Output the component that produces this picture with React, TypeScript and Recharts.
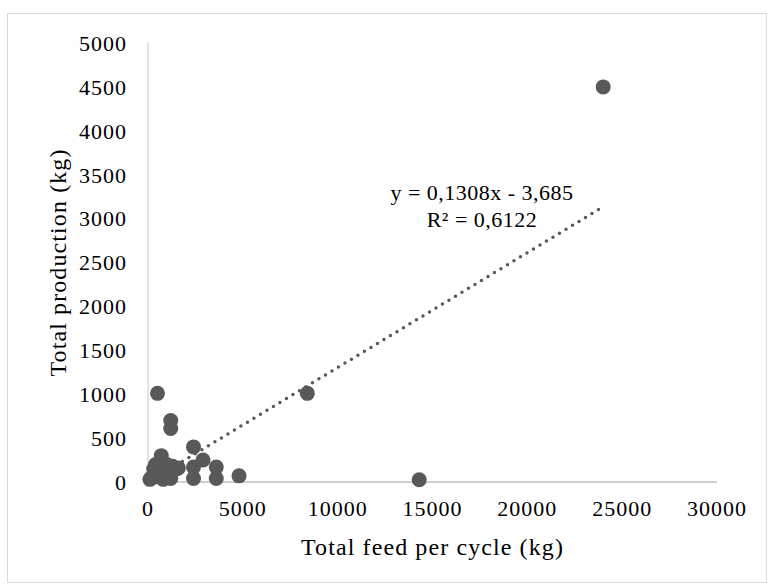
import React from 'react';
import { ScatterChart, Scatter, XAxis, YAxis, Label } from 'recharts';

// feed per cycle (kg) and total production (kg)
const feed = [
  100, 200, 300, 350, 400, 450, 500, 600, 700, 750, 800, 900, 1000, 1100, 1200, 1200, 1200,
  1300, 1500, 1600, 2400, 2400, 2400, 2900, 3600, 3600, 4800, 8400, 14300, 24000,
];
const production = [
  30, 50, 150, 100, 200, 60, 1010, 120, 300, 180, 30, 150, 200, 100, 700, 610, 40,
  180, 150, 160, 400, 170, 40, 250, 170, 40, 70, 1010, 25, 4500,
];

// linear trendline end points (y = 0,1308x - 3,685)
const trendX = [100, 24000];
const trendY = [9, 3135];

const xTicks = [0, 5000, 10000, 15000, 20000, 25000, 30000];
const yTicks = [0, 500, 1000, 1500, 2000, 2500, 3000, 3500, 4000, 4500, 5000];

const points = feed.map((x, i) => ({ x, y: production[i] }));
const trend = trendX.map((x, i) => ({ x, y: trendY[i] }));

const font = '"Liberation Serif", "Times New Roman", serif';
const dotColor = '#595959';

const Dot = (props: any) => {
  const { cx, cy } = props;
  if (cx == null || cy == null) return <g />;
  return <circle cx={cx} cy={cy} r={7.5} fill={dotColor} />;
};

const tickStyle = { fill: '#000', fontSize: 22, fontFamily: font, letterSpacing: 1 };
const titleStyle = { fill: '#000', fontSize: 24, fontFamily: font, letterSpacing: 1.1 };

const App = () => {
  return (
    <div style={{ position: 'absolute', left: 0, top: 0, width: 769, height: 587, background: '#fff' }}>
      <div
        style={{
          position: 'absolute',
          left: 7,
          top: 13,
          width: 760,
          height: 570,
          border: '1px solid #d9d9d9',
          boxSizing: 'border-box',
        }}
      />
      <div style={{ position: 'absolute', left: 0, top: 0 }}>
        <ScatterChart
          width={769}
          height={587}
          margin={{ top: 43, right: 52, left: 88, bottom: 75 }}
          style={{ fontFamily: font }}
        >
          <XAxis
            type="number"
            dataKey="x"
            domain={[0, 30000]}
            ticks={xTicks}
            interval={0}
            height={30}
            tickSize={0}
            tickMargin={18}
            axisLine={{ stroke: '#bfbfbf', strokeWidth: 1.5 }}
            tick={tickStyle}
          >
            <Label value="Total feed per cycle (kg)" position="center" dy={49} style={titleStyle} />
          </XAxis>
          <YAxis
            type="number"
            dataKey="y"
            domain={[0, 5000]}
            ticks={yTicks}
            interval={0}
            width={60}
            tickSize={0}
            tickMargin={21}
            axisLine={{ stroke: '#d9d9d9', strokeWidth: 1.5 }}
            tick={tickStyle}
          >
            <Label
              value="Total production (kg)"
              position="center"
              angle={-90}
              dx={-61}
              style={{ ...titleStyle, textAnchor: 'middle' }}
            />
          </YAxis>
          <Scatter
            data={trend}
            isAnimationActive={false}
            shape={() => <g />}
            line={{
              stroke: dotColor,
              strokeWidth: 3.5,
              strokeDasharray: '0 7.6',
              strokeLinecap: 'round',
            }}
          />
          <Scatter data={points} isAnimationActive={false} shape={Dot} fill={dotColor} />
        </ScatterChart>
      </div>
      <div
        style={{
          position: 'absolute',
          left: 372,
          top: 179,
          width: 220,
          textAlign: 'center',
          fontFamily: font,
          fontSize: 22,
          letterSpacing: 0.5,
          lineHeight: '27px',
          color: '#000',
        }}
      >
        <div>y = 0,1308x - 3,685</div>
        <div>R² = 0,6122</div>
      </div>
    </div>
  );
};

export default App;
